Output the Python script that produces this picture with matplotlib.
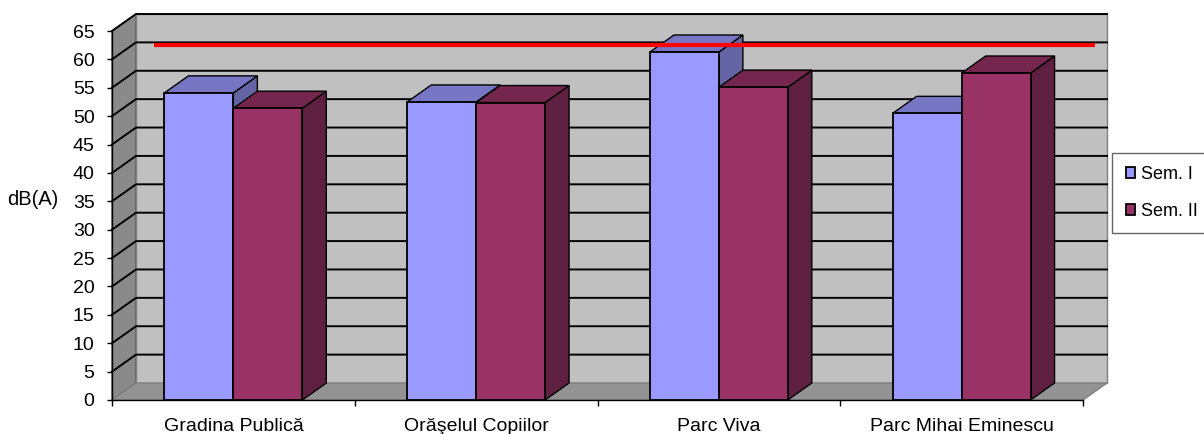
import matplotlib
matplotlib.use("Agg")
import matplotlib.pyplot as plt
from matplotlib.patches import Polygon, Patch

plt.rcParams['font.family'] = ['Liberation Sans', 'DejaVu Sans']

locations = ['Gradina Publică', 'Orăşelul Copiilor', 'Parc Viva', 'Parc Mihai Eminescu']
sem1 = [54.1, 52.5, 61.3, 50.5]
sem2 = [51.4, 52.4, 55.1, 57.6]
series_names = ['Sem. I', 'Sem. II']
limit_level = 62.6
y_ticks = list(range(0, 70, 5))

# face colours: front, top, side
col1 = ('#9999ff', '#7676c4', '#6565a6')
col2 = ('#993366', '#75264e', '#5f1f40')

W, H = 1204, 434
fig = plt.figure(figsize=(W / 100, H / 100), dpi=100)
ax = fig.add_axes([112 / W, 34 / H, 971 / W, 369 / H])
ax.set_xlim(-0.5, 3.5)
ax.set_ylim(0, 65)
ax.patch.set_visible(False)

# depth offset of the fake 3d box, in data units
DX = 24 / 242.75
DY = 17 / 5.677
bw = 0.284


def poly(pts, fc, ec='black', lw=1.0, z=1):
    p = Polygon(pts, closed=True, facecolor=fc, edgecolor=ec, linewidth=lw,
                zorder=z, clip_on=False)
    ax.add_patch(p)


# walls and floor
poly([(-0.5, 0), (-0.5, 65), (-0.5 + DX, 65 + DY), (-0.5 + DX, DY)], '#8a8a8a', ec='#555555', z=0)
poly([(-0.5 + DX, DY), (3.5 + DX, DY), (3.5 + DX, 65 + DY), (-0.5 + DX, 65 + DY)], '#c0c0c0', ec='#808080', z=0)
poly([(-0.5, 0), (3.5, 0), (3.5 + DX, DY), (-0.5 + DX, DY)], '#939393', ec='#808080', z=0)

for v in y_ticks[1:]:
    ax.plot([-0.5, -0.5 + DX, 3.5 + DX], [v, v + DY, v + DY], color='black',
            lw=1.4, zorder=0.5, clip_on=False)


def bar3d(x0, h, cols):
    x1 = x0 + bw
    poly([(x1, 0), (x1 + DX, DY), (x1 + DX, h + DY), (x1, h)], cols[2], z=2)
    poly([(x0, h), (x1, h), (x1 + DX, h + DY), (x0 + DX, h + DY)], cols[1], z=2)
    poly([(x0, 0), (x1, 0), (x1, h), (x0, h)], cols[0], lw=1.3, z=2)


for i in range(len(locations)):
    bar3d(i - bw, sem1[i], col1)
    bar3d(i, sem2[i], col2)

ax.plot([-0.327, 3.549], [limit_level, limit_level], color='#ff0000', lw=3,
        zorder=5, clip_on=False, solid_capstyle='butt')

# axes
for s in ['top', 'right']:
    ax.spines[s].set_visible(False)
ax.spines['left'].set_linewidth(1.0)
ax.spines['bottom'].set_linewidth(1.0)
ax.spines['left'].set_zorder(3)
ax.spines['bottom'].set_zorder(3)

ax.set_yticks(y_ticks)
ax.tick_params(axis='y', direction='out', length=3.6, width=1, pad=9, labelsize=14)
ax.set_xticks(range(len(locations)))
ax.set_xticklabels(locations)
ax.set_xticks([i - 0.5 for i in range(len(locations) + 1)], minor=True)
ax.tick_params(axis='x', which='major', length=0, pad=13, labelsize=14)
ax.tick_params(axis='x', which='minor', direction='out', length=4, width=1)

fig.text(33 / W, 1 - 199 / H, 'dB(A)', ha='center', va='center', fontsize=14.5)

handles = [Patch(facecolor=col1[0], edgecolor='black', linewidth=1.3),
           Patch(facecolor=col2[0], edgecolor='black', linewidth=1.3)]
leg = fig.legend(handles, series_names, loc='center left',
                 bbox_to_anchor=(1112 / W, 1 - 193 / H), fontsize=13,
                 frameon=True, fancybox=False, edgecolor='#404040',
                 borderpad=0.75, labelspacing=1.1, handlelength=0.55,
                 handleheight=0.55, handletextpad=0.3, borderaxespad=0)
leg.get_frame().set_linewidth(1.0)

fig.savefig('out.png', dpi=100)
